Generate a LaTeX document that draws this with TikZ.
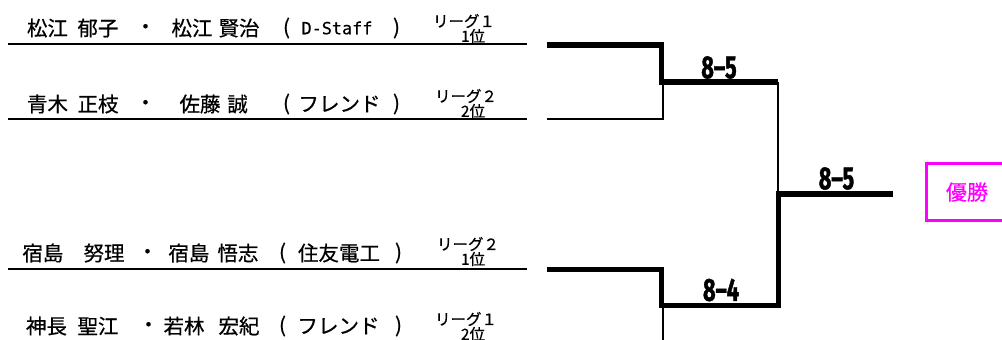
\documentclass[tikz,border=0pt]{standalone}
\usepackage{fontspec}
\setmainfont{Noto Sans CJK JP}
\newfontfamily\jpfont{Noto Sans CJK JP}[FakeBold=0.6]
\newfontfamily\scorefont{Fira Sans}[FakeStretch=0.68, FakeBold=1.2]
\newfontfamily\latinmono{DejaVu Sans Mono}[FakeBold=0.5]
\definecolor{mag}{HTML}{FF00FF}
\begin{document}
\begin{tikzpicture}[x=1pt,y=-1pt,
  nm/.style={inner sep=0pt, font=\jpfont\fontsize{20.5}{21}\selectfont},
  mono/.style={inner sep=0pt, font=\latinmono\fontsize{16.8}{17}\selectfont},
  sm/.style={inner sep=0pt, font=\jpfont\fontsize{15.5}{16}\selectfont},
  sc/.style={inner sep=0pt, font=\scorefont\bfseries\fontsize{32}{32}\selectfont},
  rowline/.style={line width=2.6pt},
  thinline/.style={line width=2pt},
  thickline/.style={line width=5.5pt, line join=miter},
  winbox/.style={draw=mag, line width=3.3pt, text=mag, minimum width=81pt, minimum height=57pt, inner sep=0pt, font=\jpfont\fontsize{21}{22}\selectfont}]
\useasboundingbox (0,0) rectangle (1002,340);
\clip (0,0) rectangle (1002,340);
% row 1
\node[nm] (r1a) at (47.5,28) {松江};
\node[nm] (r1b) at (98,28) {郁子};
\node[nm] (r1c) at (145.5,29) {・};
\node[nm] (r1d) at (192,28) {松江};
\node[nm] (r1e) at (239,28) {賢治};
\node[nm] (r1f) at (286.5,28) {(};
\node[mono] (r1g) at (337,28) {D-Staff};
\node[nm] (r1h) at (396.5,28) {)};
\node[sm] (r1i) at (464,21) {リーグ１};
\node[sm] (r1j) at (473,36) {1位};
% row 2
\node[nm] (r2a) at (47.5,104) {青木};
\node[nm] (r2b) at (98,104) {正枝};
\node[nm] (r2c) at (145.5,105) {・};
\node[nm] (r2d) at (200,104) {佐藤};
\node[nm] (r2e) at (237.5,104) {誠};
\node[nm] (r2f) at (286.5,104) {(};
\node[nm] (r2g) at (339.5,104) {フレンド};
\node[nm] (r2h) at (396.5,104) {)};
\node[sm] (r2i) at (466,96) {リーグ２};
\node[sm] (r2j) at (473,111) {2位};
% row 3
\node[nm] (r3a) at (43,253) {宿島};
\node[nm] (r3b) at (104,253) {努理};
\node[nm] (r3c) at (147.5,254) {・};
\node[nm] (r3d) at (189,253) {宿島};
\node[nm] (r3e) at (238,253) {悟志};
\node[nm] (r3f) at (282.5,253) {(};
\node[nm] (r3g) at (339,253) {住友電工};
\node[nm] (r3h) at (398.5,253) {)};
\node[sm] (r3i) at (468,244) {リーグ２};
\node[sm] (r3j) at (473,259) {1位};
% row 4
\node[nm] (r4a) at (46.5,326) {神長};
\node[nm] (r4b) at (98,326) {聖江};
\node[nm] (r4c) at (148.5,327) {・};
\node[nm] (r4d) at (184,326) {若林};
\node[nm] (r4e) at (239,326) {宏紀};
\node[nm] (r4f) at (282.5,326) {(};
\node[nm] (r4g) at (338.5,326) {フレンド};
\node[nm] (r4h) at (398.5,326) {)};
\node[sm] (r4i) at (466,319) {リーグ１};
\node[sm] (r4j) at (473,334) {2位};
% row lines
\coordinate (l1a) at (8,44);  \coordinate (l1b) at (527,44);
\coordinate (l2a) at (8,119); \coordinate (l2b) at (527,119);
\coordinate (l3a) at (8,269); \coordinate (l3b) at (527,269);
\draw[rowline] (l1a) -- (l1b);
\draw[rowline] (l2a) -- (l2b);
\draw[rowline] (l3a) -- (l3b);
% bracket coordinates
\coordinate (a1) at (547,45);
\coordinate (a2) at (661.5,45);
\coordinate (a3) at (661.5,82);
\coordinate (a4) at (778,82);
\coordinate (b1) at (547,119);
\coordinate (b2) at (663,119);
\coordinate (b3) at (663,82);
\coordinate (f1) at (778,194);
\coordinate (c1) at (547,269.5);
\coordinate (c2) at (661.5,269.5);
\coordinate (c3) at (661.5,305.5);
\coordinate (c4) at (778.5,305.5);
\coordinate (c5) at (778.5,194);
\coordinate (f2) at (893,194);
\coordinate (d1) at (663,305.5);
\coordinate (d2) at (663,345);
\draw[thickline] (a1) -- (a2) -- (a3) -- (a4);
\draw[thinline] (b1) -- (b2) -- (b3);
\draw[thinline] (a4) -- (f1);
\draw[thickline] (c1) -- (c2) -- (c3) -- (c4) -- (c5) -- (f2);
\draw[thinline] (d1) -- (d2);
% scores
\node[sc] (s1) at (719,67.5) {8–5};
\node[sc] (s2) at (836.5,178.5) {8–5};
\node[sc] (s3) at (721,290) {8–4};
% winner box
\node[winbox] (win) at (967,192) {優勝};
\end{tikzpicture}
\end{document}
